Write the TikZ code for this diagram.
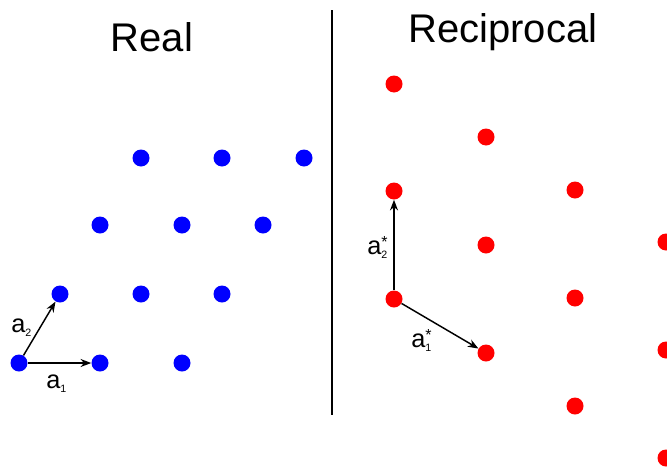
\documentclass[tikz,border=0pt]{standalone}
\usepackage{fontspec}
\setmainfont{Liberation Sans}
\usetikzlibrary{arrows.meta}

\newcommand{\vecsub}[1]{\raisebox{-3pt}{\fontsize{8}{8}\selectfont #1}}
\newcommand{\vecstar}[1]{\makebox[0pt][l]{\raisebox{5pt}{\fontsize{12}{12}\selectfont *}}\vecsub{#1}}

\begin{document}
\begin{tikzpicture}[
    x=0.75pt, y=-0.75pt,
    >=Stealth,
    font=\fontsize{19}{19}\selectfont,
    real/.style={circle, fill=blue, inner sep=0pt, minimum size=12.75pt},
    recip/.style={circle, fill=red, inner sep=0pt, minimum size=12.75pt},
    title/.style={font=\fontsize{30}{30}\selectfont, inner sep=0pt},
    lbl/.style={inner sep=0pt, anchor=base west},
    vec/.style={line width=1.1pt, -{Stealth[length=8pt, width=6pt]}}
  ]
  \useasboundingbox (0,0) rectangle (667,468);

  % titles and separator
  \node[title, anchor=base] (realtitle) at (152,51) {Real};
  \node[title, anchor=base west] (reciptitle) at (408,42) {Reciprocal};
  \coordinate (septop) at (332,10);
  \coordinate (sepbot) at (332,415);
  \draw[line width=1pt] (septop) -- (sepbot);

  % real lattice
  \node[real] (r00) at (19,363) {};
  \node[real] (r10) at (100,363) {};
  \node[real] (r20) at (182,363) {};
  \node[real] (r01) at (60,294) {};
  \node[real] (r11) at (141,294) {};
  \node[real] (r21) at (222,294) {};
  \node[real] (r02) at (100,225) {};
  \node[real] (r12) at (182,225) {};
  \node[real] (r22) at (263,225) {};
  \node[real] (r03) at (141,158) {};
  \node[real] (r13) at (222,158) {};
  \node[real] (r23) at (304,158) {};

  % reciprocal lattice
  \node[recip] (k00) at (394,84) {};
  \node[recip] (k01) at (394,191) {};
  \node[recip] (k02) at (394,299) {};
  \node[recip] (k10) at (486,137) {};
  \node[recip] (k11) at (486,245) {};
  \node[recip] (k12) at (486,353) {};
  \node[recip] (k20) at (575,190) {};
  \node[recip] (k21) at (575,298) {};
  \node[recip] (k22) at (575,406) {};
  \node[recip] (k30) at (666,242) {};
  \node[recip] (k31) at (666,350) {};
  \node[recip] (k32) at (666,458) {};

  % basis vectors
  \draw[vec] (r00) -- (r10);
  \draw[vec] (r00) -- (r01);
  \draw[vec] (k02) -- (k01);
  \draw[vec] (k02) -- (k12);

  \node[lbl] (la1) at (46,388) {a\vecsub{1}};
  \node[lbl] (la2) at (11,332) {a\vecsub{2}};
  \node[lbl] (lb2) at (367,254) {a\vecstar{2}};
  \node[lbl] (lb1) at (411,347) {a\vecstar{1}};
\end{tikzpicture}
\end{document}
